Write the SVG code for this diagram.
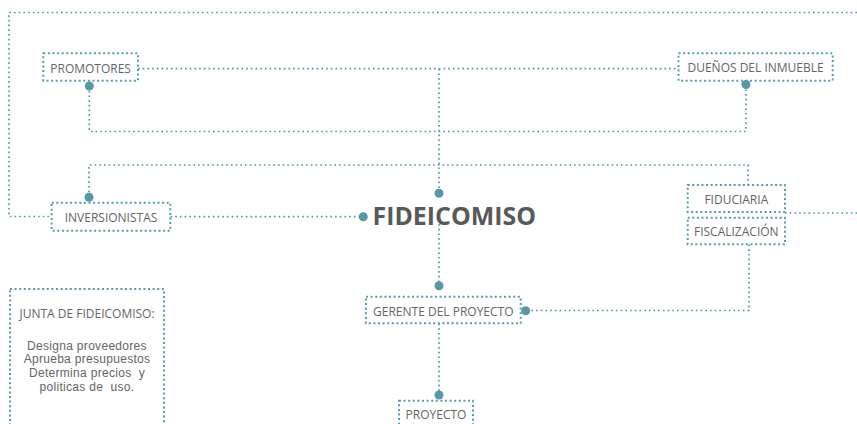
<svg xmlns="http://www.w3.org/2000/svg" width="857" height="424" viewBox="0 0 857 424">
<style>
.ln{fill:none;stroke:#5b9ba6;stroke-width:1.7;stroke-dasharray:1.7 3}
.bx{fill:none;stroke:#5b9ba6;stroke-width:2;stroke-dasharray:2 2.6}
.dot{fill:#5a97a3}
.t{font-family:"Open Sans","Noto Sans",sans-serif;font-size:12px;fill:#646567;text-anchor:middle}
.s{font-family:"Liberation Sans",Arial,sans-serif;font-size:12px;letter-spacing:0.3px;fill:#646567;text-anchor:middle;white-space:pre}
.big{font-family:"Open Sans","Noto Sans",sans-serif;font-size:25px;font-weight:bold;fill:#58595b}
</style>
<rect width="857" height="424" fill="#ffffff"/>
<g id="connectors">
<path class="ln" d="M857,12.5 H9 V216.5 H51"/>
<path class="ln" d="M138,68.7 H679"/>
<path class="ln" d="M89.3,86 V131.5 H746 V84"/>
<path class="ln" d="M439,68.7 V193"/>
<path class="ln" d="M89,197 V165 H748 V185"/>
<path class="ln" d="M170.5,216.7 H363"/>
<path class="ln" d="M439,224 V286"/>
<path class="ln" d="M785,213 H857"/>
<path class="ln" d="M749,244.5 V310.5 H526"/>
<path class="ln" d="M439,323.5 V395"/>
<circle class="dot" cx="89.3" cy="86" r="4.5"/>
<circle class="dot" cx="746" cy="84.5" r="4.5"/>
<circle class="dot" cx="89" cy="197.3" r="4.5"/>
<circle class="dot" cx="439" cy="193.3" r="4.5"/>
<circle class="dot" cx="363.3" cy="216.7" r="4.5"/>
<circle class="dot" cx="439" cy="285.7" r="4.5"/>
<circle class="dot" cx="525.7" cy="310.7" r="4.5"/>
<circle class="dot" cx="439" cy="395" r="4.5"/>
</g>
<g id="promotores">
<rect class="bx" x="43.3" y="53.3" width="94.7" height="27.4"/>
<text class="t" x="90.6" y="72.5">PROMOTORES</text>
</g>
<g id="duenos">
<rect class="bx" x="678.5" y="53.3" width="154.2" height="27.4"/>
<text class="t" x="755.6" y="72">DUEÑOS DEL INMUEBLE</text>
</g>
<g id="inversionistas">
<rect class="bx" x="51.7" y="202.7" width="118.6" height="28"/>
<text class="t" x="111" y="221.7">INVERSIONISTAS</text>
</g>
<g id="fideicomiso">
<text class="big" x="372.5" y="224.5" textLength="163.5" lengthAdjust="spacingAndGlyphs">FIDEICOMISO</text>
</g>
<g id="fiduciaria">
<rect class="bx" x="687.7" y="185" width="97.3" height="27"/>
<text class="t" x="736.3" y="204">FIDUCIARIA</text>
</g>
<g id="fiscalizacion">
<rect class="bx" x="687.7" y="217.7" width="97.3" height="26.6"/>
<text class="t" x="736.3" y="235.7">FISCALIZACIÓN</text>
</g>
<g id="gerente">
<rect class="bx" x="366" y="296.7" width="154.7" height="26.6"/>
<text class="t" x="443.3" y="315.7">GERENTE DEL PROYECTO</text>
</g>
<g id="proyecto">
<rect class="bx" x="399" y="400.7" width="74" height="30"/>
<text class="t" x="436" y="419">PROYECTO</text>
</g>
<g id="junta">
<rect class="bx" x="10" y="289" width="154" height="142"/>
<text class="t" x="87" y="317.5">JUNTA DE FIDEICOMISO:</text>
<text class="s" x="87" y="349.5">Designa proveedores</text>
<text class="s" x="87" y="363.2">Aprueba presupuestos</text>
<text class="s" x="87" y="376.9">Determina precios  y</text>
<text class="s" x="87" y="390.6">politicas de  uso.</text>
</g>
</svg>
